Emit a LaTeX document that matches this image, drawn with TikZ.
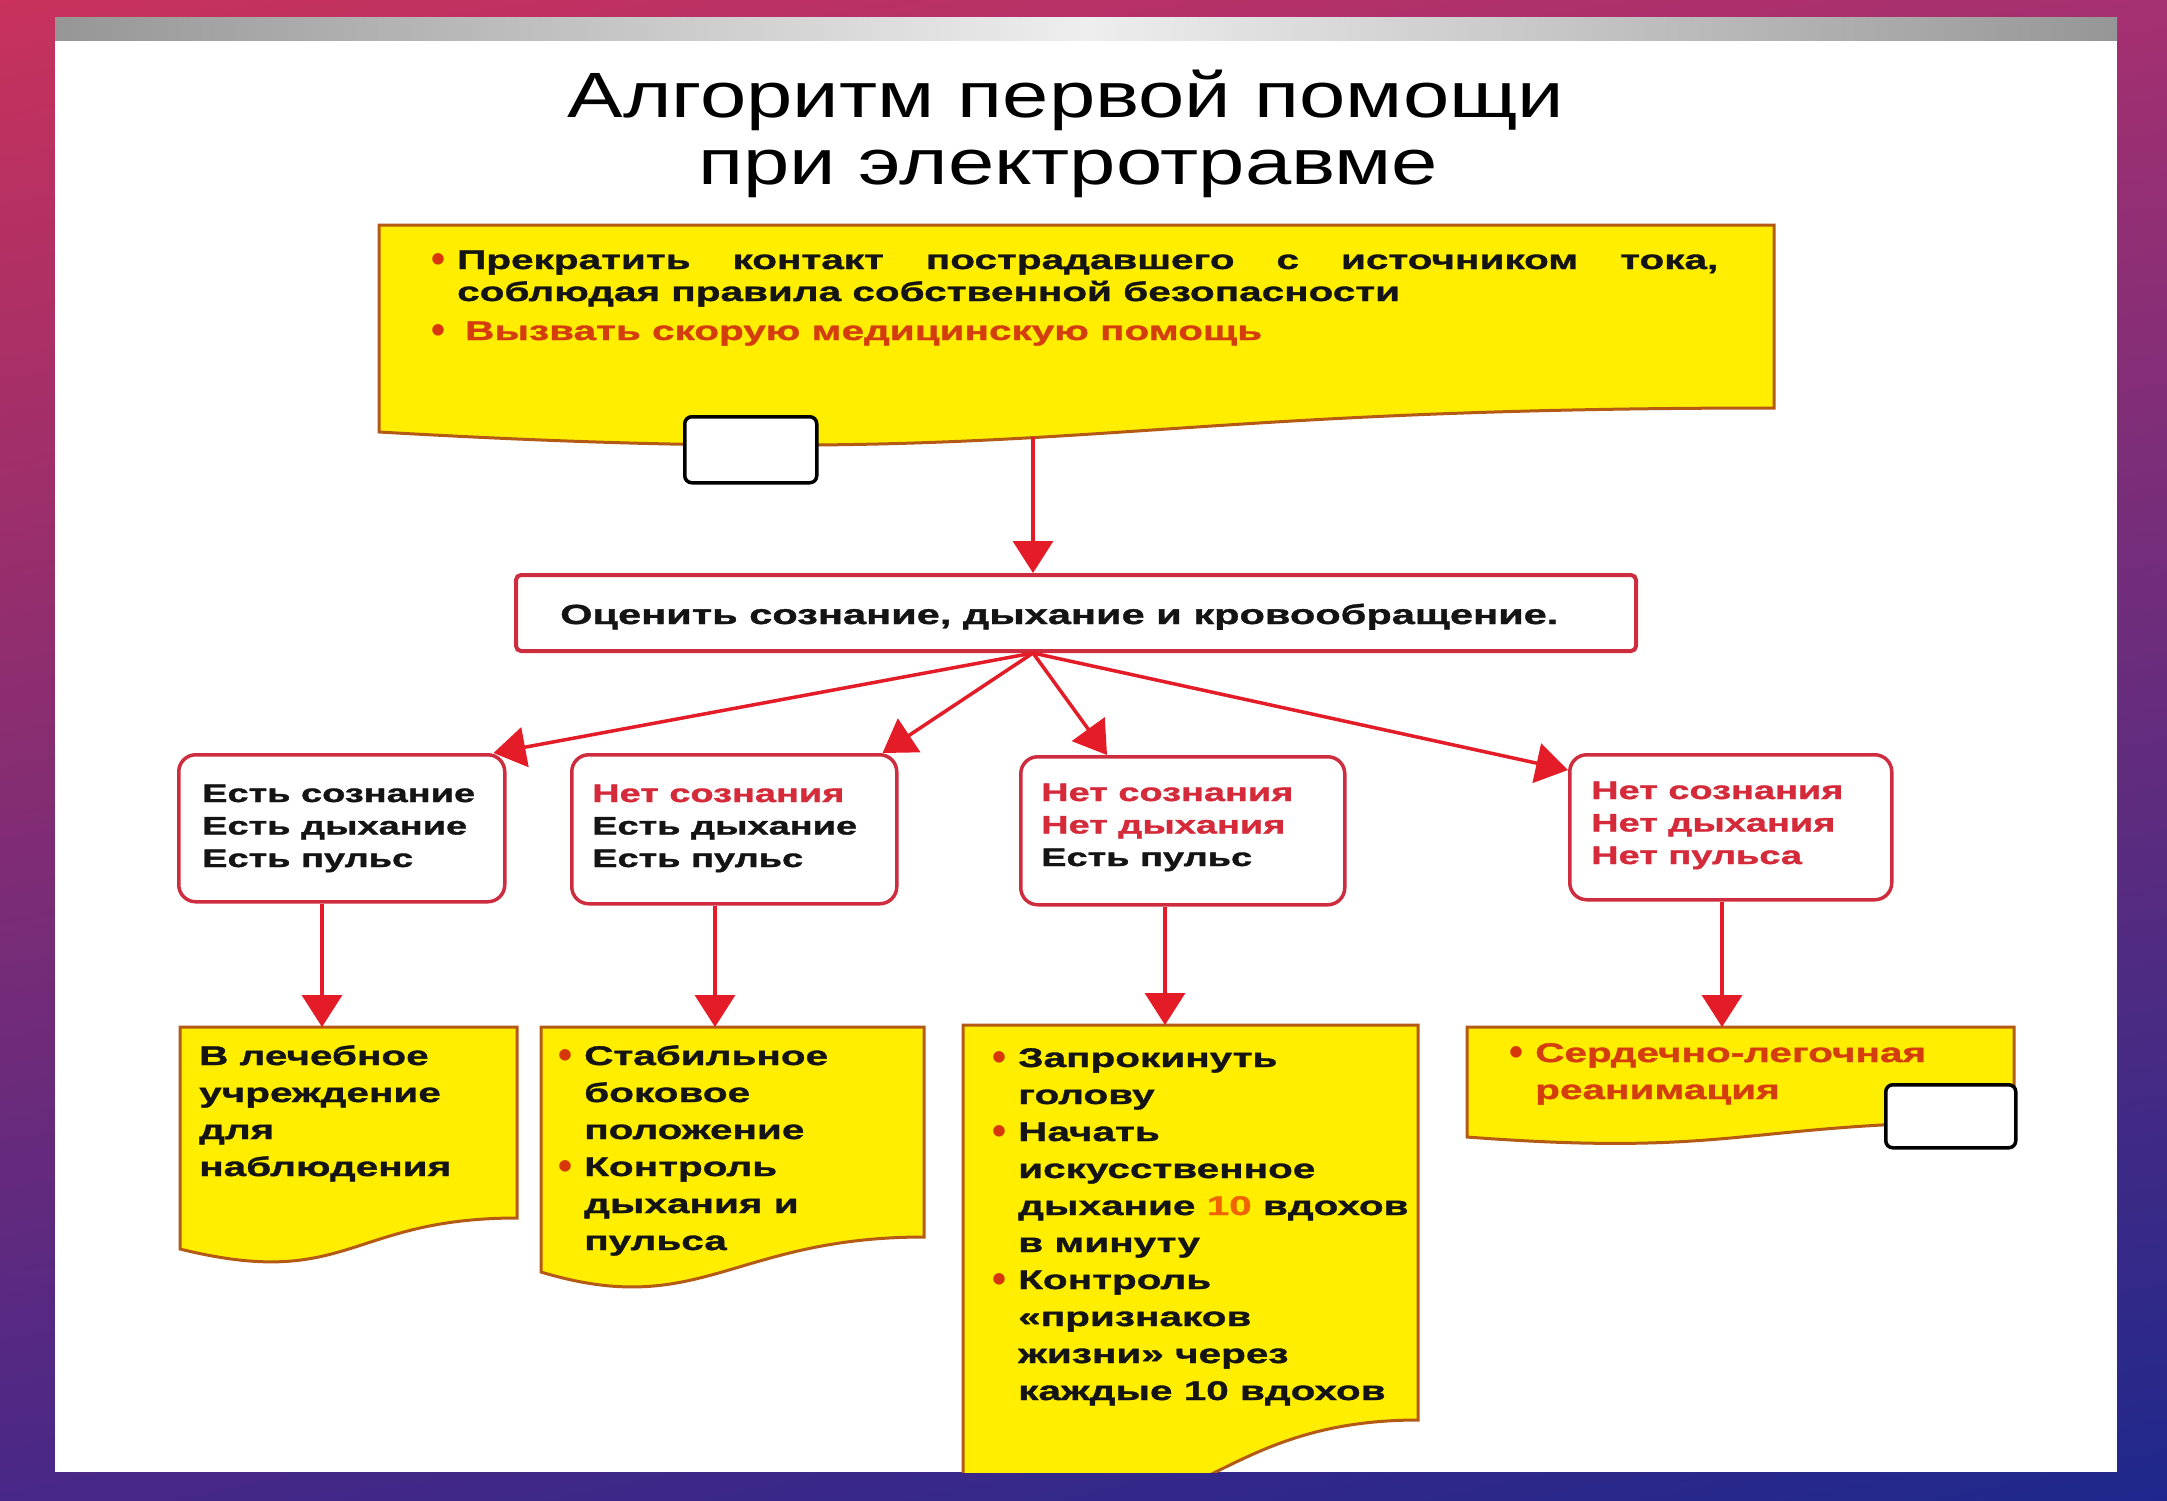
\documentclass[tikz,border=0pt]{standalone}
\usepackage{fontspec}
\setmainfont{Liberation Sans}
\newfontfamily\wfont[FakeStretch=1.5,FakeBold=1.3]{Liberation Sans}
\newfontfamily\tfont[FakeStretch=1.3]{Liberation Sans}
\newfontfamily\bulfont{Liberation Sans}
\usetikzlibrary{arrows.meta,shadings}
\definecolor{bgA}{RGB}{200,50,92}
\definecolor{bgB}{RGB}{165,48,112}
\definecolor{bgC}{RGB}{72,40,135}
\definecolor{bgD}{RGB}{30,40,140}
\definecolor{barD}{RGB}{150,150,150}
\definecolor{barL}{RGB}{238,238,238}
\definecolor{yel}{RGB}{255,238,0}
\definecolor{yedge}{RGB}{180,90,20}
\definecolor{arrc}{RGB}{228,28,40}
\definecolor{cedge}{RGB}{205,45,62}
\definecolor{ctext}{RGB}{212,42,58}
\definecolor{otext}{RGB}{212,62,14}
\definecolor{bulc}{RGB}{215,55,10}
\definecolor{tenc}{RGB}{240,100,0}
\definecolor{ink}{RGB}{20,20,20}
\newcommand\bul{\llap{\makebox[26pt][l]{\textcolor{bulc}{\bulfont\fontsize{40pt}{40pt}\selectfont\raisebox{-3pt}{•}}}}}
\begin{document}
\begin{tikzpicture}[x=1pt,y=-1pt,
  arr/.style={draw=arrc, line width=3.5pt, -{Triangle[length=32pt,width=40pt]}},
  condbox/.style={draw=cedge, line width=3.5pt, fill=white, rounded corners=17pt, inner sep=0pt, anchor=north west},
  assessbox/.style={draw=cedge, line width=4pt, fill=white, rounded corners=5pt, inner sep=0pt, anchor=north west},
  docshape/.style={fill=yel, draw=yedge, line width=3pt},
  tinybox/.style={draw=black, fill=white, line width=3.5pt, rounded corners=7pt, inner sep=0pt, anchor=north west},
  txt/.style={inner sep=0pt, anchor=base west, text=ink},
  cfont/.style={font=\wfont\bfseries\fontsize{25.3pt}{32.5pt}\selectfont},
  afont/.style={font=\wfont\bfseries\fontsize{27pt}{37pt}\selectfont},
  titletxt/.style={inner sep=0pt, anchor=base, text=black, font=\tfont\fontsize{64pt}{64pt}\selectfont}]
\useasboundingbox (0,0) rectangle (2167,1500);
% slide background
\shade[upper left=bgA, upper right=bgB, lower left=bgC, lower right=bgD] (0,0) rectangle (2167,1500);
\fill[white] (55,17) rectangle (2117,1472);
\shade[left color=barD, right color=barD, middle color=barL] (55,17) rectangle (2117,40);
% title
\node[titletxt] (title1) at (1066,117) {Алгоритм первой помощи};
\node[titletxt] (title2) at (1068,184) {при электротравме};
% top document box
\path[docshape] (379,225) -- (1774,225) -- (1774,408) .. controls (1076,408) and (1076,472) .. (379,432) -- cycle;
\node[tinybox, minimum width=132pt, minimum height=66pt] (w1) at (683,415) {};
\coordinate (topout) at (1033,437);
\node[txt, font=\wfont\bfseries\fontsize{27pt}{32pt}\selectfont] (toptext) at (457,269) {\vtop{%
  \hbox{\bul\makebox[1261pt][s]{Прекратить контакт пострадавшего с источником тока,}}
  \hbox{соблюдая правила собственной безопасности}
  \vskip7pt
  \hbox{\bul\hspace{8pt}\textcolor{otext}{Вызвать скорую медицинскую помощь}}}};
% assess box
\node[assessbox, minimum width=1120pt, minimum height=76pt] (assess) at (514,573) {};
\node[txt, font=\wfont\bfseries\fontsize{27.7pt}{30pt}\selectfont] (assesstext) at (560,624) {Оценить сознание, дыхание и кровообращение.};
\coordinate (fan) at (assess.south -| topout);
% condition boxes
\node[condbox, minimum width=326pt, minimum height=147pt] (c1) at (177,753) {};
\node[condbox, minimum width=325pt, minimum height=149pt] (c2) at (570,753) {};
\node[condbox, minimum width=324pt, minimum height=148pt] (c3) at (1019,755) {};
\node[condbox, minimum width=322pt, minimum height=145pt] (c4) at (1568,753) {};
\node[txt, cfont] (c1text) at (202,802) {\vtop{\hbox{Есть сознание}\hbox{Есть дыхание}\hbox{Есть пульс}}};
\node[txt, cfont] (c2text) at (592,802) {\vtop{\hbox{\textcolor{ctext}{Нет сознания}}\hbox{Есть дыхание}\hbox{Есть пульс}}};
\node[txt, cfont] (c3text) at (1041,801) {\vtop{\hbox{\textcolor{ctext}{Нет сознания}}\hbox{\textcolor{ctext}{Нет дыхания}}\hbox{Есть пульс}}};
\node[txt, cfont] (c4text) at (1591,799) {\vtop{\hbox{\textcolor{ctext}{Нет сознания}}\hbox{\textcolor{ctext}{Нет дыхания}}\hbox{\textcolor{ctext}{Нет пульса}}}};
% action boxes
\path[docshape] (180,1027) -- (517,1027) -- (517,1218) .. controls (348.5,1218) and (348.5,1290.6) .. (180,1249) -- cycle;
\path[docshape] (541,1027) -- (924,1027) -- (924,1237) .. controls (732.5,1237) and (700,1320) .. (541,1272) -- cycle;
\begin{scope}
  \clip (55,17) rectangle (2117,1472);
  \path[docshape] (963,1025) -- (1418,1025) -- (1418,1420) .. controls (1190.5,1420) and (1190.5,1570) .. (963,1485) -- cycle;
\end{scope}
\path[docshape] (1467,1027) -- (2014,1027) -- (2014,1121.6) .. controls (1740.5,1121.6) and (1740.5,1157.7) .. (1467,1137) -- cycle;
\node[tinybox, minimum width=130pt, minimum height=63pt] (w2) at (1884,1083) {};
\coordinate (y1) at (322,1027);
\coordinate (y2) at (715,1027);
\coordinate (y3) at (1165,1025);
\coordinate (y4) at (1722,1027);
\node[txt, afont] (a1text) at (199,1065) {\vtop{\hbox{В лечебное}\hbox{учреждение}\hbox{для}\hbox{наблюдения}}};
\node[txt, afont] (a2text) at (584,1065) {\vtop{\hbox{\bul Стабильное}\hbox{боковое}\hbox{положение}\hbox{\bul Контроль}\hbox{дыхания и}\hbox{пульса}}};
\node[txt, afont] (a3text) at (1018,1067) {\vtop{\hbox{\bul Запрокинуть}\hbox{голову}\hbox{\bul Начать}\hbox{искусственное}\hbox{дыхание \textcolor{tenc}{10} вдохов}\hbox{в минуту}\hbox{\bul Контроль}\hbox{«признаков}\hbox{жизни» через}\hbox{каждые 10 вдохов}}};
\node[txt, afont] (a4text) at (1535,1062) {\vtop{\hbox{\bul\textcolor{otext}{Сердечно-легочная}}\hbox{\textcolor{otext}{реанимация}}}};
% connectors
\draw[arr] (topout) -- (assess.north -| topout);
\draw[arr] (fan) -- ([xshift=-13pt]c1.north east);
\draw[arr] (fan) -- ([xshift=-16pt]c2.north east);
\draw[arr] (fan) -- ([xshift=88pt]c3.north west);
\draw[arr] (fan) -- ([yshift=-17pt]c4.north west);
\draw[arr] (c1.south -| y1) -- (y1);
\draw[arr] (c2.south -| y2) -- (y2);
\draw[arr] (c3.south -| y3) -- (y3);
\draw[arr] (c4.south -| y4) -- (y4);
\end{tikzpicture}
\end{document}
